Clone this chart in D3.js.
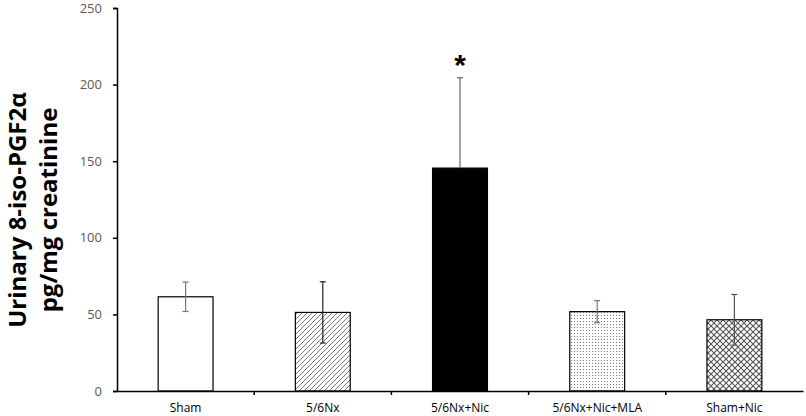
<!DOCTYPE html>
<html>
<head>
<meta charset="utf-8">
<script src="https://cdn.jsdelivr.net/npm/d3@7"></script>
<style>
	body { margin: 0; background: #fff; }
	svg { display: block; }
	.tick text { font-family: "Open Sans", "Liberation Sans", sans-serif; }
</style>
</head>
<body>
<svg width="806" height="416"></svg>
<script>
const groups = ["Sham", "5/6Nx", "5/6Nx+Nic", "5/6Nx+Nic+MLA", "Sham+Nic"];
const means = [61.5, 51.3, 145.5, 51.8, 46.5];
const sds = [9.6, 20, 59, 7.2, 16.5];
const fills = ["white", "url(#hatch)", "black", "url(#dots)", "url(#mesh)"];
const errColor = ["#777", "#222", "#666", "#777", "#555"];
const errLowColor = ["#777", "#222", "#000", "#777", "#555"];
const yTicks = [0, 50, 100, 150, 200, 250];

const svg = d3.select("svg");
const margin = { top: 8, right: 3, bottom: 25, left: 117 };
const width = 806 - margin.left - margin.right;
const height = 416 - margin.top - margin.bottom;

const defs = svg.append("defs");

// diagonal hatch
const hatch = defs.append("pattern")
	.attr("id", "hatch")
	.attr("patternUnits", "userSpaceOnUse")
	.attr("width", 5).attr("height", 5);
hatch.append("rect").attr("width", 5).attr("height", 5).attr("fill", "white");
hatch.append("path")
	.attr("d", "M-1,1 l2,-2 M0,5 l5,-5 M4,6 l2,-2")
	.attr("stroke", "#666").attr("stroke-width", 0.9);

// small dots
const dots = defs.append("pattern")
	.attr("id", "dots")
	.attr("patternUnits", "userSpaceOnUse")
	.attr("width", 3).attr("height", 3);
dots.append("rect").attr("width", 3).attr("height", 3).attr("fill", "white");
dots.append("rect").attr("x", 1).attr("y", 1).attr("width", 1).attr("height", 1).attr("fill", "#777");

// diamond mesh
const mesh = defs.append("pattern")
	.attr("id", "mesh")
	.attr("patternUnits", "userSpaceOnUse")
	.attr("width", 6).attr("height", 6);
mesh.append("rect").attr("width", 6).attr("height", 6).attr("fill", "white");
mesh.append("path")
	.attr("d", "M0,0 L6,6 M6,0 L0,6")
	.attr("stroke", "#555").attr("stroke-width", 1.1);

const g = svg.append("g")
	.attr("transform", `translate(${margin.left},${margin.top})`);

const x = d3.scaleBand().domain(groups).range([0, width]);
const y = d3.scaleLinear().domain([0, 250]).range([height, 0]);
const barW = x.bandwidth() * 0.4;

// y axis
const gY = g.append("g")
	.call(d3.axisLeft(y).tickValues(yTicks).tickSize(4).tickPadding(11));
gY.select(".domain").attr("stroke", "#000").attr("stroke-width", 1.5);
gY.selectAll(".tick line").attr("stroke", "#000").attr("stroke-width", 1.5);
gY.selectAll(".tick text").attr("font-size", 13).attr("fill", "#595959");

// bars
g.selectAll(".bar")
	.data(groups)
	.join("rect")
	.attr("class", "bar")
	.attr("x", d => x(d) + (x.bandwidth() - barW) / 2)
	.attr("y", (d, i) => y(means[i]))
	.attr("width", barW)
	.attr("height", (d, i) => y(0) - y(means[i]))
	.attr("fill", (d, i) => fills[i])
	.attr("stroke", "#000")
	.attr("stroke-width", 1.2);

// error bars
const eb = g.selectAll(".err")
	.data(groups)
	.join("g")
	.attr("class", "err")
	.attr("stroke-width", 1.2);
const cx = d => x(d) + x.bandwidth() / 2;
eb.append("line")
	.attr("stroke", (d, i) => errColor[i])
	.attr("x1", cx).attr("x2", cx)
	.attr("y1", (d, i) => y(means[i] + sds[i]))
	.attr("y2", (d, i) => y(means[i]));
eb.append("line")
	.attr("stroke", (d, i) => errColor[i])
	.attr("x1", d => cx(d) - 3).attr("x2", d => cx(d) + 3)
	.attr("y1", (d, i) => y(means[i] + sds[i]))
	.attr("y2", (d, i) => y(means[i] + sds[i]));
eb.append("line")
	.attr("stroke", (d, i) => errLowColor[i])
	.attr("x1", cx).attr("x2", cx)
	.attr("y1", (d, i) => y(means[i]))
	.attr("y2", (d, i) => y(means[i] - sds[i]));
eb.append("line")
	.attr("stroke", (d, i) => errLowColor[i])
	.attr("x1", d => cx(d) - 3).attr("x2", d => cx(d) + 3)
	.attr("y1", (d, i) => y(means[i] - sds[i]))
	.attr("y2", (d, i) => y(means[i] - sds[i]));

// x axis
const gX = g.append("g")
	.attr("transform", `translate(0,${height})`)
	.call(d3.axisBottom(x).tickSize(0).tickPadding(12));
gX.select(".domain").attr("stroke", "#000").attr("stroke-width", 1.5);
gX.selectAll(".tick text").attr("font-size", 12).attr("fill", "#000");
gX.selectAll(".sep")
	.data(groups.slice(1))
	.join("line")
	.attr("class", "sep")
	.attr("x1", d => x(d)).attr("x2", d => x(d))
	.attr("y1", 0).attr("y2", 4)
	.attr("stroke", "#000").attr("stroke-width", 1.5);

// significance mark
g.append("text")
	.attr("x", cx(groups[2]))
	.attr("y", y(means[2] + sds[2]) - 3)
	.attr("text-anchor", "middle")
	.attr("font-family", "Liberation Sans, sans-serif")
	.attr("font-weight", "bold")
	.attr("font-size", 30)
	.text("*");

// y axis title
const title = svg.append("text")
	.attr("transform", "translate(0,210) rotate(-90)")
	.attr("text-anchor", "middle")
	.attr("font-family", "Open Sans, Liberation Sans, sans-serif")
	.attr("font-weight", "bold")
	.attr("font-size", 24);
title.append("tspan").attr("x", 0).attr("y", 26).text("Urinary 8-iso-PGF2α");
title.append("tspan").attr("x", 0).attr("y", 57).text("pg/mg creatinine");
</script>
</body>
</html>
